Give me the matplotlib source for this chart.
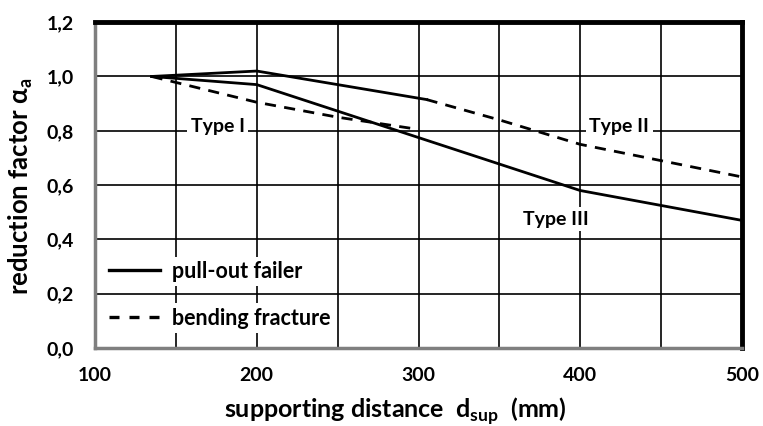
import matplotlib
matplotlib.use("Agg")
import matplotlib.pyplot as plt
from matplotlib.lines import Line2D

plt.rcParams['font.family'] = ['Lato', 'DejaVu Sans']
plt.rcParams['font.weight'] = 'bold'

# Data
pull_out_x = [135, 200, 400, 500]          # Type III, pull-out failure
pull_out_y = [1.0, 0.97, 0.58, 0.47]
typeII_solid_x = [135, 200, 305]           # Type II, pull-out part
typeII_solid_y = [1.0, 1.02, 0.915]
typeII_dash_x = [305, 350, 400, 450, 500]  # Type II, bending part
typeII_dash_y = [0.915, 0.84, 0.75, 0.69, 0.63]
typeI_x = [135, 200, 250, 300]             # Type I, bending fracture
typeI_y = [1.0, 0.905, 0.85, 0.805]

x_ticks = [100, 200, 300, 400, 500]
x_grid = [150, 250, 350, 450]
y_ticks = [0.0, 0.2, 0.4, 0.6, 0.8, 1.0, 1.2]
y_tick_labels = ['0,0', '0,2', '0,4', '0,6', '0,8', '1,0', '1,2']

fig = plt.figure(figsize=(7.63, 4.26), dpi=100)
ax = fig.add_axes([0.1245, 0.183, 0.848, 0.765])

ax.set_xlim(100, 500)
ax.set_ylim(0, 1.2)
ax.set_xticks(x_ticks)
ax.set_xticks(x_grid, minor=True)
ax.set_yticks(y_ticks)
ax.set_yticklabels(y_tick_labels)
ax.grid(True, which='both', color='black', linewidth=1.2, zorder=0)
ax.set_axisbelow(True)
ax.tick_params(which='both', length=0, labelsize=14)
ax.tick_params(axis='x', pad=14)
ax.tick_params(axis='y', pad=15)
for lab in ax.get_xticklabels() + ax.get_yticklabels():
    lab.set_fontweight('bold')

lw = 2.0
ax.plot(pull_out_x, pull_out_y, color='black', lw=lw, zorder=3)
ax.plot(typeII_solid_x, typeII_solid_y, color='black', lw=lw, zorder=3)
ax.plot(typeII_dash_x, typeII_dash_y, color='black', lw=lw, ls=(0, (4, 3)), zorder=3)
ax.plot(typeI_x, typeI_y, color='black', lw=lw, ls=(0, (4, 3)), zorder=3)

box = dict(facecolor='white', edgecolor='none', pad=2.5)
ax.text(176, 0.817, 'Type I', ha='center', va='center', fontsize=14,
        fontweight='bold', bbox=box, zorder=2)
ax.text(424, 0.817, 'Type II', ha='center', va='center', fontsize=14,
        fontweight='bold', bbox=box, zorder=2)
ax.text(385, 0.475, 'Type III', ha='center', va='center', fontsize=14,
        fontweight='bold', bbox=box, zorder=2)

# Legends (each entry separately with its own white background)
h1 = Line2D([], [], color='black', lw=2.4)
h2 = Line2D([], [], color='black', lw=2.4, ls=(0, (3, 3)))
leg1 = ax.legend([h1], ['pull-out failer'], loc='center left',
                 bbox_to_anchor=(-0.002, 0.235), frameon=True, framealpha=1,
                 edgecolor='none', handlelength=2.4,
                 handletextpad=0.55, borderpad=0.2, prop={'weight': 'bold', 'size': 15.5})
leg1.get_frame().set_linewidth(0)
ax.add_artist(leg1)
leg2 = ax.legend([h2], ['bending fracture'], loc='center left',
                 bbox_to_anchor=(-0.002, 0.092), frameon=True, framealpha=1,
                 edgecolor='none', handlelength=2.4,
                 handletextpad=0.55, borderpad=0.2, prop={'weight': 'bold', 'size': 15.5})
leg2.get_frame().set_linewidth(0)

for s in ['top', 'right']:
    ax.spines[s].set_color('black')
    ax.spines[s].set_linewidth(3.5)
for s in ['left', 'bottom']:
    ax.spines[s].set_color('#7f7f7f')
    ax.spines[s].set_linewidth(2.5)

ax.set_ylabel(r'reduction factor α$_\mathregular{a}$', fontsize=18.5, fontweight='bold')
ax.set_xlabel(r'supporting distance  d$_\mathregular{sup}$  (mm)', fontsize=18,
              fontweight='bold')
ax.xaxis.set_label_coords(0.464, -0.145)
ax.yaxis.set_label_coords(-0.093, 0.497)

fig.savefig('out.png', dpi=100)
